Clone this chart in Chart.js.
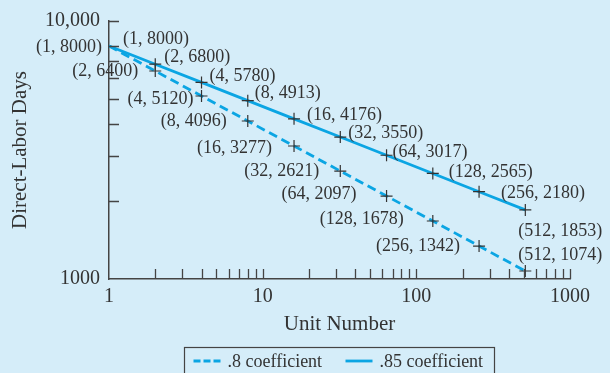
<!DOCTYPE html>
<html>
<head>
<meta charset="utf-8">
<script src="https://cdn.jsdelivr.net/npm/chart.js@4"></script>
<style>
  body { margin: 0; background: #d5edf9; }
  #wrap { width: 610px; height: 373px; position: relative; }
</style>
</head>
<body>
<div id="wrap"><canvas id="chLearning"></canvas></div>
<script>
// data
var units = [1, 2, 4, 8, 16, 32, 64, 128, 256, 512];
var days80 = [8000, 6400, 5120, 4096, 3277, 2621, 2097, 1678, 1342, 1074];
var days85 = [8000, 6800, 5780, 4913, 4176, 3550, 3017, 2565, 2180, 1853];
var seriesNames = [".8 coefficient", ".85 coefficient"];
var xTicks = [1, 2, 3, 4, 5, 6, 7, 8, 9, 10, 20, 30, 40, 50, 60, 70, 80, 90, 100, 200, 300, 400, 500, 600, 700, 800, 900, 1000];
var xTickLabels = [1, 10, 100, 1000];
var yTicks = [1000, 2000, 3000, 4000, 5000, 6000, 7000, 8000, 10000];

// label placement (offset from the point, px) -- layout only
var off80 = [[-7, 1, "right"], [-17, 0, "right"], [-8, 3, "right"], [-21, 0, "right"], [-22, 2, "right"],
  [-21, 0, "right"], [-30, -2, "right"], [-29, -2, "right"], [-19, 0, "right"], [-7, -16, "left"]];
var off85 = [[14, -7, "left"], [9, -7, "left"], [8, -6, "left"], [7, -7, "left"], [13, -4, "left"],
  [8, -4, "left"], [6, -3, "left"], [16, -1, "left"], [22, 2, "left"], [-7, 21, "left"]];

var blue = "#0ba5e3";
var ink = "#333333";
var serif = "Liberation Serif";

function pts(ys) {
  return units.map(function (u, i) { return { x: u, y: ys[i] }; });
}

var pointLabels = {
  id: "pointLabels",
  afterDatasetsDraw: function (chart) {
    var ctx = chart.ctx;
    var offs = [off80, off85];
    ctx.save();
    ctx.font = "18px '" + serif + "'";
    ctx.fillStyle = ink;
    ctx.textBaseline = "middle";
    chart.data.datasets.forEach(function (ds, di) {
      var meta = chart.getDatasetMeta(di);
      meta.data.forEach(function (el, i) {
        var o = offs[di][i];
        ctx.textAlign = o[2];
        ctx.fillText("(" + ds.data[i].x + ", " + ds.data[i].y + ")", el.x + o[0], el.y + o[1]);
      });
    });
    ctx.restore();
  }
};

var innerTicks = {
  id: "innerTicks",
  afterDraw: function (chart) {
    var ctx = chart.ctx;
    var xs = chart.scales.x, ys = chart.scales.y;
    ctx.save();
    ctx.strokeStyle = "#444";
    ctx.lineWidth = 1.3;
    ctx.beginPath();
    xs.ticks.forEach(function (t, i) {
      if (t.value === xs.min) return;
      var px = Math.round(xs.getPixelForTick(i)) + 0.5;
      ctx.moveTo(px, xs.top);
      ctx.lineTo(px, xs.top - 10);
    });
    ys.ticks.forEach(function (t, i) {
      if (t.value === ys.min) return;
      var py = Math.round(ys.getPixelForTick(i)) + 0.5;
      ctx.moveTo(ys.right, py);
      ctx.lineTo(ys.right + 10, py);
    });
    ctx.stroke();

    // boxed legend under the axis title
    var cx = (chart.chartArea.left + chart.chartArea.right) / 2;
    var bx = cx - 155, by = 347.5;
    ctx.strokeStyle = "#444";
    ctx.lineWidth = 1.2;
    ctx.strokeRect(bx, by, 310, 40);
    ctx.font = "18px '" + serif + "'";
    ctx.fillStyle = ink;
    ctx.textBaseline = "middle";
    ctx.textAlign = "left";
    var items = [{ x: bx + 9, dash: [7, 3] }, { x: bx + 161, dash: [] }];
    items.forEach(function (it, i) {
      ctx.strokeStyle = blue;
      ctx.lineWidth = 2.8;
      ctx.setLineDash(it.dash);
      ctx.beginPath();
      ctx.moveTo(it.x, 361);
      ctx.lineTo(it.x + 27, 361);
      ctx.stroke();
      ctx.setLineDash([]);
      ctx.fillText(chart.data.datasets[i].label, it.x + 34, 362);
    });
    ctx.restore();
  }
};

var chLearning = document.getElementById("chLearning");
if (chLearning) {
  new Chart(chLearning, {
    type: "line",
    data: {
      datasets: [
        {
          label: seriesNames[0],
          data: pts(days80),
          borderColor: blue,
          borderWidth: 2.8,
          borderDash: [9, 5],
          pointStyle: "cross",
          pointRadius: function (c) { return c.dataIndex === 0 ? 0 : 6; },
          pointBorderColor: ink,
          pointBorderWidth: 1.2,
          fill: false
        },
        {
          label: seriesNames[1],
          data: pts(days85),
          borderColor: blue,
          borderWidth: 2.8,
          pointStyle: "cross",
          pointRadius: function (c) { return c.dataIndex === 0 ? 0 : 6; },
          pointBorderColor: ink,
          pointBorderWidth: 1.2,
          fill: false
        }
      ]
    },
    options: {
      responsive: true,
      maintainAspectRatio: false,
      animation: false,
      layout: { padding: { left: 0, right: 40, top: 17, bottom: 0 } },
      plugins: { legend: { display: false }, tooltip: { enabled: false } },
      scales: {
        x: {
          type: "logarithmic",
          min: 1,
          max: 1000,
          afterBuildTicks: function (s) { s.ticks = xTicks.map(function (v) { return { value: v }; }); },
          afterFit: function (s) { s.height = 94; },
          grid: { drawOnChartArea: false, drawTicks: false },
          border: { color: "#444", width: 1.5 },
          ticks: {
            autoSkip: false,
            maxRotation: 0,
            padding: 6,
            color: ink,
            font: { family: serif, size: 20 },
            callback: function (v) { return xTickLabels.indexOf(v) >= 0 ? String(v) : ""; }
          },
          title: {
            display: true,
            text: "Unit Number",
            color: ink,
            font: { family: serif, size: 21 },
            padding: { top: 0, bottom: 36 }
          }
        },
        y: {
          type: "logarithmic",
          min: 1000,
          max: 10000,
          afterBuildTicks: function (s) { s.ticks = yTicks.map(function (v) { return { value: v }; }); },
          afterFit: function (s) { s.width = 109; },
          grid: { drawOnChartArea: false, drawTicks: false },
          border: { color: "#444", width: 1.5 },
          ticks: {
            autoSkip: false,
            padding: 9,
            color: ink,
            font: { family: serif, size: 20 },
            callback: function (v) {
              if (v === 10000) return "10,000";
              if (v === 1000) return "1000";
              return "";
            }
          },
          title: {
            display: true,
            text: "Direct-Labor Days",
            color: ink,
            font: { family: serif, size: 21 },
            padding: { top: 8, bottom: 0 }
          }
        }
      }
    },
    plugins: [pointLabels, innerTicks]
  });
}
</script>
</body>
</html>
